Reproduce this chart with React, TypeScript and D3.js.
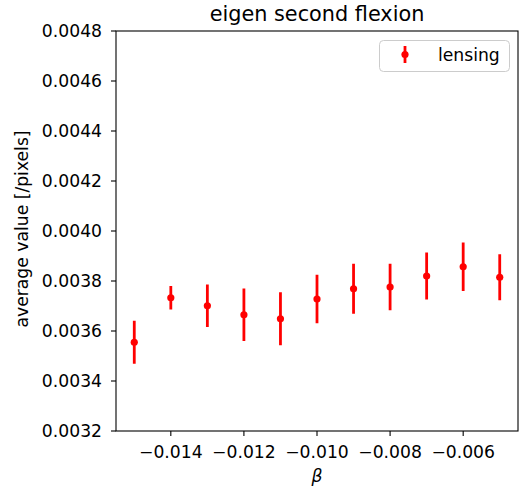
import React from "react";
import * as d3 from "d3";

const betas = [-0.015, -0.014, -0.013, -0.012, -0.011, -0.01, -0.009, -0.008, -0.007, -0.006, -0.005];
const values = [0.003555, 0.003733, 0.003701, 0.003665, 0.003649, 0.003728, 0.003769, 0.003776, 0.00382, 0.003857, 0.003815];
const errors = [0.000086, 0.000047, 0.000085, 0.000105, 0.000106, 0.000097, 0.0001, 0.000093, 0.000094, 0.000097, 0.000092];
const xTicks = [-0.014, -0.012, -0.01, -0.008, -0.006];
const yTicks = [0.0032, 0.0034, 0.0036, 0.0038, 0.004, 0.0042, 0.0044, 0.0046, 0.0048];

const W = 522;
const H = 489;
const M = { left: 116, right: 518, top: 31, bottom: 431 };
const FONT = "DejaVu Sans";
const FS = 17.2;

export default function App() {
  const x = d3.scaleLinear().domain([-0.0155, -0.0045]).range([M.left, M.right]);
  const y = d3.scaleLinear().domain([0.0032, 0.0048]).range([M.bottom, M.top]);
  const fmtX = (v: number) => d3.format(".3f")(v).replace("-", "\u2212");
  const fmtY = (v: number) => d3.format(".4f")(v);
  const red = "#ff0000";
  return (
    <svg width={W} height={H} style={{ position: "absolute", left: 0, top: 0, background: "#fff" }} fontFamily={FONT}>
      <rect x={0} y={0} width={W} height={H} fill="#fff" />
      {/* error bars */}
      {betas.map((b, i) => (
        <g key={i}>
          <line x1={x(b)} x2={x(b)} y1={y(values[i] - errors[i])} y2={y(values[i] + errors[i])} stroke={red} strokeWidth={2.8} />
          <circle cx={x(b)} cy={y(values[i])} r={3.6} fill={red} />
        </g>
      ))}
      {/* spines */}
      <rect x={M.left} y={M.top} width={M.right - M.left} height={M.bottom - M.top} fill="none" stroke="#000" strokeWidth={1.1} />
      {/* x ticks */}
      {xTicks.map((t) => (
        <g key={t}>
          <line x1={x(t)} x2={x(t)} y1={M.bottom} y2={M.bottom + 5} stroke="#000" strokeWidth={1.1} />
          <text x={x(t)} y={458} fontSize={FS} textAnchor="middle">{fmtX(t)}</text>
        </g>
      ))}
      {/* y ticks */}
      {yTicks.map((t) => (
        <g key={t}>
          <line x1={M.left - 5} x2={M.left} y1={y(t)} y2={y(t)} stroke="#000" strokeWidth={1.1} />
          <text x={102} y={y(t)} dy="0.36em" fontSize={FS} textAnchor="end">{fmtY(t)}</text>
        </g>
      ))}
      {/* labels */}
      <text x={(M.left + M.right) / 2} y={20.7} fontSize={20.8} textAnchor="middle">eigen second flexion</text>
      <text x={(M.left + M.right) / 2} y={482} fontSize={FS} textAnchor="middle" fontStyle="italic">β</text>
      <text transform={`translate(27.5,${(M.top + M.bottom) / 2 - 2}) rotate(-90)`} fontSize={FS} textAnchor="middle">average value [/pixels]</text>
      {/* legend */}
      <rect x={379.5} y={40.5} width={130} height={31} rx={4} fill="#fff" fillOpacity={0.8} stroke="#ccc" strokeWidth={1} />
      <line x1={405} x2={405} y1={46} y2={63} stroke={red} strokeWidth={2.8} />
      <circle cx={405} cy={54.5} r={3.6} fill={red} />
      <text x={438} y={60.5} fontSize={FS}>lensing</text>
    </svg>
  );
}
